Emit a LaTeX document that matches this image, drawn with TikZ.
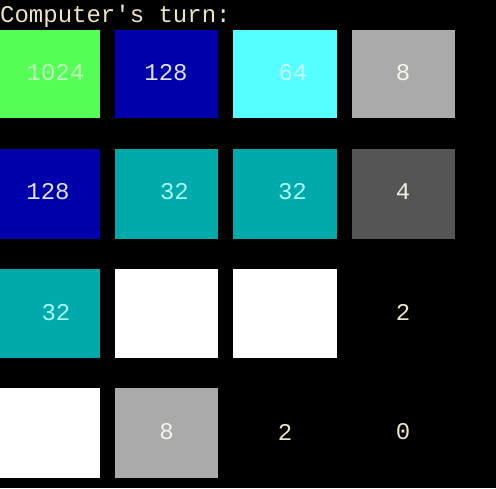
\documentclass[tikz,border=0pt]{standalone}
\usepackage{fontspec}
\setmonofont{Liberation Mono}
\begin{document}
\begin{tikzpicture}[x=1pt,y=-1pt,
  tile/.style={draw=none,inner sep=0pt,anchor=north west},
  num/.style={inner sep=0pt,font=\ttfamily\fontsize{24}{24}\selectfont,anchor=center},
  plain/.style={num,text=termtext}]
\definecolor{termtext}{RGB}{236,228,196}
\definecolor{tgreen}{RGB}{85,255,85}
\definecolor{tblue}{RGB}{0,0,170}
\definecolor{tcyan}{RGB}{85,255,255}
\definecolor{tgray}{RGB}{170,170,170}
\definecolor{tteal}{RGB}{0,170,170}
\definecolor{tdark}{RGB}{85,85,85}
\fill[black] (0,0) rectangle (496,488);
\useasboundingbox (0,0) rectangle (496,488);
\node[anchor=base west,inner sep=0pt,text=termtext,font=\ttfamily\fontsize{24}{24}\selectfont] (title) at (0,22) {Computer's turn:};
% row 1
\fill[tgreen] (0,30) rectangle (100,118);
\fill[tblue] (115,30) rectangle (218,118);
\fill[tcyan] (233,30) rectangle (337,118);
\fill[tgray] (352,30) rectangle (455,118);
% row 2
\fill[tblue] (0,149) rectangle (100,239);
\fill[tteal] (115,149) rectangle (218,239);
\fill[tteal] (233,149) rectangle (337,239);
\fill[tdark] (352,149) rectangle (455,239);
% row 3
\fill[tteal] (0,269) rectangle (100,358);
\fill[white] (115,269) rectangle (218,358);
\fill[white] (233,269) rectangle (337,358);
% row 4
\fill[white] (0,388) rectangle (100,478);
\fill[tgray] (115,388) rectangle (218,478);
% numbers
\node[num,text={rgb,255:red,190;green,255;blue,190}] (n11) at (55.5,73) {1024};
\node[num,text={rgb,255:red,225;green,225;blue,255}] (n12) at (166,73) {128};
\node[num,text={rgb,255:red,200;green,255;blue,255}] (n13) at (293,73) {64};
\node[num,text={rgb,255:red,245;green,245;blue,235}] (n14) at (403,73) {8};
\node[num,text={rgb,255:red,225;green,225;blue,255}] (n21) at (48,192) {128};
\node[num,text={rgb,255:red,170;green,255;blue,255}] (n22) at (174.5,192) {32};
\node[num,text={rgb,255:red,170;green,255;blue,255}] (n23) at (292.5,192) {32};
\node[num,text={rgb,255:red,240;green,240;blue,225}] (n24) at (403,192) {4};
\node[num,text={rgb,255:red,170;green,255;blue,255}] (n31) at (56,312.5) {32};
\node[plain] (n34) at (403,312.5) {2};
\node[num,text={rgb,255:red,245;green,245;blue,235}] (n42) at (166.5,432) {8};
\node[plain] (n43) at (285,432) {2};
\node[plain] (n44) at (403,432) {0};
\end{tikzpicture}
\end{document}
